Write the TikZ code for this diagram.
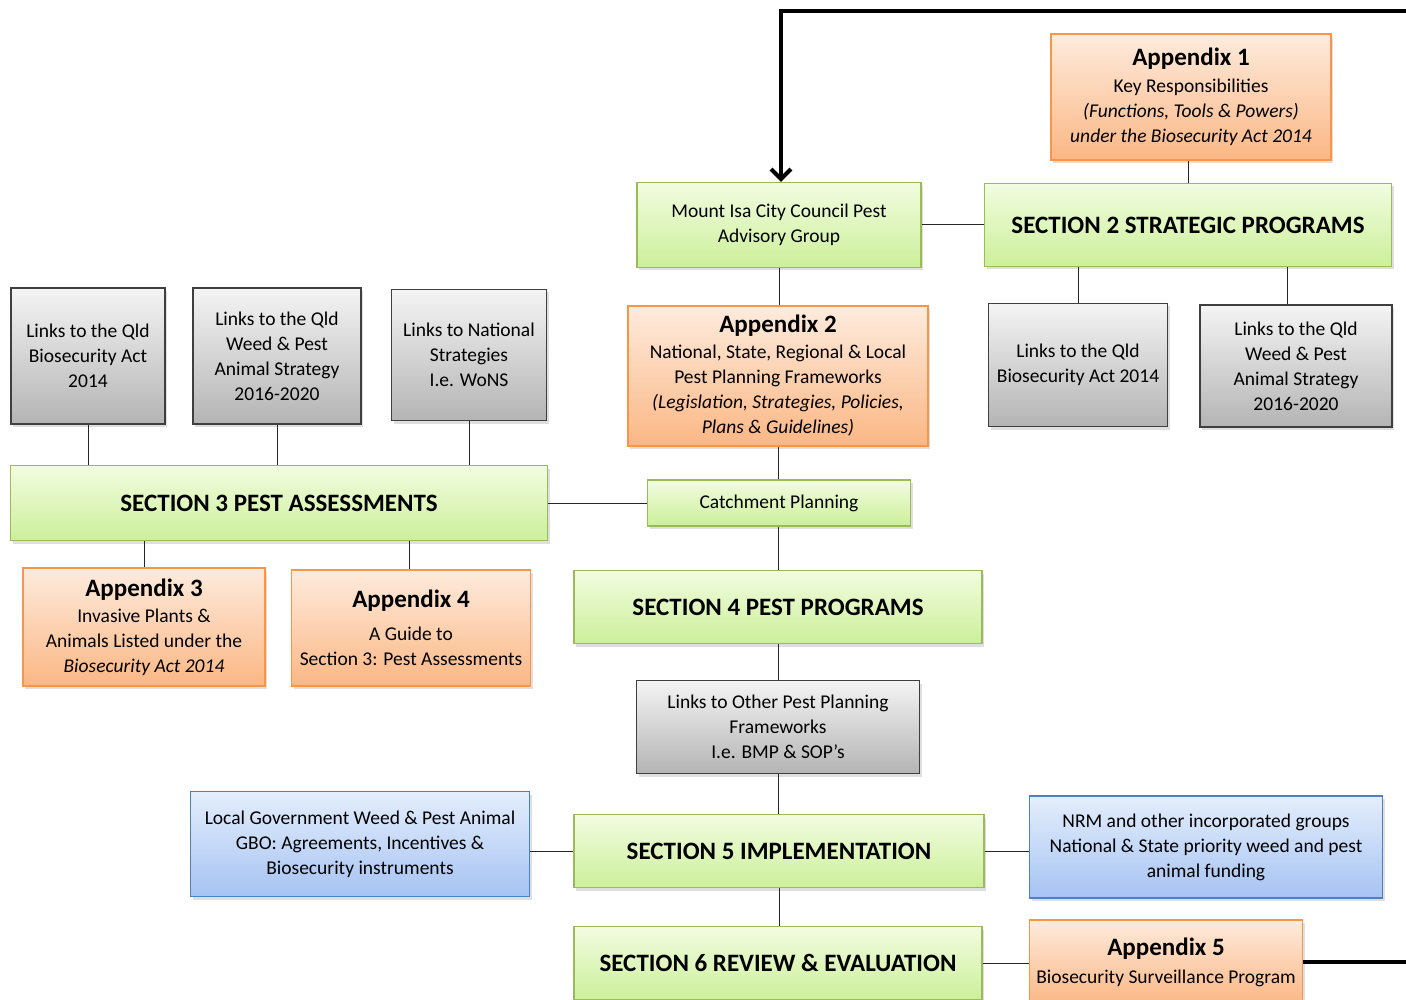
\documentclass[tikz,border=0pt]{standalone}
\usepackage{fontspec}
\setmainfont{Carlito}
\usetikzlibrary{arrows.meta,shadows}

\definecolor{greenTop}{HTML}{F2FCE0}
\definecolor{greenBot}{HTML}{CCF09A}
\definecolor{greenLine}{HTML}{9BBB59}
\definecolor{orangeTop}{HTML}{FEEBDD}
\definecolor{orangeBot}{HTML}{FBB784}
\definecolor{orangeLine}{HTML}{F79646}
\definecolor{greyTop}{HTML}{F4F4F4}
\definecolor{greyBot}{HTML}{B4B4B4}
\definecolor{greyLine}{HTML}{3F3F3F}
\definecolor{blueTop}{HTML}{E4EEFC}
\definecolor{blueBot}{HTML}{A6C3F3}
\definecolor{blueLine}{HTML}{4F81BD}

\tikzset{
  box/.style={rectangle, align=center, inner sep=0pt, line width=1.2pt,
    drop shadow={shadow xshift=2pt, shadow yshift=-3pt, opacity=0.25},
    font=\fontsize{19.5}{25}\selectfont},
  greenbox/.style={box, draw=greenLine, top color=greenTop, bottom color=greenBot},
  orangebox/.style={box, draw=orangeLine, top color=orangeTop, bottom color=orangeBot},
  greybox/.style={box, draw=greyLine, top color=greyTop, bottom color=greyBot},
  bluebox/.style={box, draw=blueLine, top color=blueTop, bottom color=blueBot},
  section/.style={font=\fontsize{25}{30}\selectfont\bfseries},
  link/.style={draw=black!85, line width=1pt},
  feedback/.style={draw=black, line width=4pt}
}
\newcommand{\apxhead}[1]{{\fontsize{25}{30}\selectfont\bfseries #1}}

\begin{document}
\begin{tikzpicture}[x=1pt, y=-1pt]
  \useasboundingbox (0,0) rectangle (1406,1000);
  \clip (0,0) rectangle (1406,1000);

  % top row
  \node[orangebox, minimum width=280pt, minimum height=126pt] (apx1) at (1191,97)
    {\apxhead{Appendix 1}\\[2pt]Key Responsibilities\\\textit{(Functions, Tools \& Powers)}\\\textit{under the Biosecurity Act 2014}};
  \node[greenbox, minimum width=284pt, minimum height=85pt] (group) at (779,225)
    {Mount Isa City Council Pest\\Advisory Group};
  \node[greenbox, section, minimum width=407pt, minimum height=83pt] (sec2) at (1188,225)
    {SECTION 2 STRATEGIC PROGRAMS};

  % links boxes
  \node[greybox, minimum width=154pt, minimum height=136pt] (actL) at (88,356)
    {Links to the Qld\\Biosecurity Act\\2014};
  \node[greybox, minimum width=168pt, minimum height=136pt] (weedL) at (277,356)
    {Links to the Qld\\Weed \& Pest\\Animal Strategy\\2016-2020};
  \node[greybox, minimum width=155pt, minimum height=131pt] (natL) at (469,355)
    {Links to National\\Strategies\\I.e. WoNS};
  \node[orangebox, minimum width=300pt, minimum height=140pt] (apx2) at (778,376)
    {\apxhead{Appendix 2}\\[1pt]National, State, Regional \& Local\\Pest Planning Frameworks\\\textit{(Legislation, Strategies, Policies,}\\\textit{Plans \& Guidelines)}};
  \node[greybox, minimum width=179pt, minimum height=123pt] (actR) at (1078,365)
    {Links to the Qld\\Biosecurity Act 2014};
  \node[greybox, minimum width=192pt, minimum height=122pt] (weedR) at (1296,366)
    {Links to the Qld\\Weed \& Pest\\Animal Strategy\\2016-2020};

  % section 3 row
  \node[greenbox, section, minimum width=537pt, minimum height=75pt] (sec3) at (279,503)
    {SECTION 3 PEST ASSESSMENTS};
  \node[greenbox, minimum width=263pt, minimum height=46pt] (catch) at (779,503)
    {Catchment Planning};
  \node[orangebox, minimum width=242pt, minimum height=118pt] (apx3) at (144,627)
    {\apxhead{Appendix 3}\\[1pt]Invasive Plants \&\\Animals Listed under the\\\textit{Biosecurity Act 2014}};
  \node[orangebox, minimum width=239pt, minimum height=116pt] (apx4) at (411,628)
    {\apxhead{Appendix 4}\\[8pt]A Guide to\\Section 3: Pest Assessments};
  \node[greenbox, section, minimum width=408pt, minimum height=73pt] (sec4) at (778,607)
    {SECTION 4 PEST PROGRAMS};
  \node[greybox, minimum width=283pt, minimum height=93pt] (other) at (778,727)
    {Links to Other Pest Planning\\Frameworks\\I.e. BMP \& SOP's};

  % section 5 and 6 rows
  \node[bluebox, minimum width=339pt, minimum height=105pt] (gbo) at (360,844)
    {Local Government Weed \& Pest Animal\\GBO: Agreements, Incentives \&\\Biosecurity instruments};
  \node[greenbox, section, minimum width=410pt, minimum height=73pt] (sec5) at (779,851)
    {SECTION 5 IMPLEMENTATION};
  \node[bluebox, minimum width=353pt, minimum height=102pt] (nrm) at (1206,847)
    {NRM and other incorporated groups\\National \& State priority weed and pest\\animal funding};
  \node[greenbox, section, minimum width=408pt, minimum height=73pt] (sec6) at (778,963)
    {SECTION 6 REVIEW \& EVALUATION};
  \node[orangebox, minimum width=273pt, minimum height=84pt] (apx5) at (1166,962)
    {\apxhead{Appendix 5}\\[3pt]Biosecurity Surveillance Program};

  % connectors
  \draw[link] (apx1.south -| sec2.north) -- (sec2.north);
  \draw[link] (group.east) -- (sec2.west |- group.east);
  \draw[link] (group.south) -- (apx2.north -| group.south);
  \draw[link] (sec2.south -| actR.north) -- (actR.north);
  \draw[link] (sec2.south -| 1287,0) -- (weedR.north -| 1287,0);
  \draw[link] (actL.south) -- (actL.south |- sec3.north);
  \draw[link] (weedL.south) -- (weedL.south |- sec3.north);
  \draw[link] (natL.south) -- (natL.south |- sec3.north);
  \draw[link] (sec3.east) -- (catch.west |- sec3.east);
  \draw[link] (apx2.south) -- (catch.north -| apx2.south);
  \draw[link] (catch.south -| apx2.south) -- (sec4.north -| apx2.south);
  \draw[link] (sec3.south -| apx3.north) -- (apx3.north);
  \draw[link] (sec3.south -| 409,0) -- (apx4.north -| 409,0);
  \draw[link] (sec4.south) -- (other.north);
  \draw[link] (other.south) -- (sec5.north -| other.south);
  \draw[link] (gbo.east |- sec5.west) -- (sec5.west);
  \draw[link] (sec5.east) -- (nrm.west |- sec5.east);
  \draw[link] (sec5.south) -- (sec5.south |- sec6.north);
  \draw[link] (sec6.east) -- (apx5.west |- sec6.east);

  % feedback loop
  \coordinate (loopR) at (1420,11);
  \coordinate (loopL) at (781,11);
  \draw[feedback] (apx5.east) -- ++(130,0);
  \draw[feedback, -{Straight Barb[length=10pt,width=20pt]}] (loopR) -- (loopL) -- (loopL |- group.north);
\end{tikzpicture}
\end{document}
